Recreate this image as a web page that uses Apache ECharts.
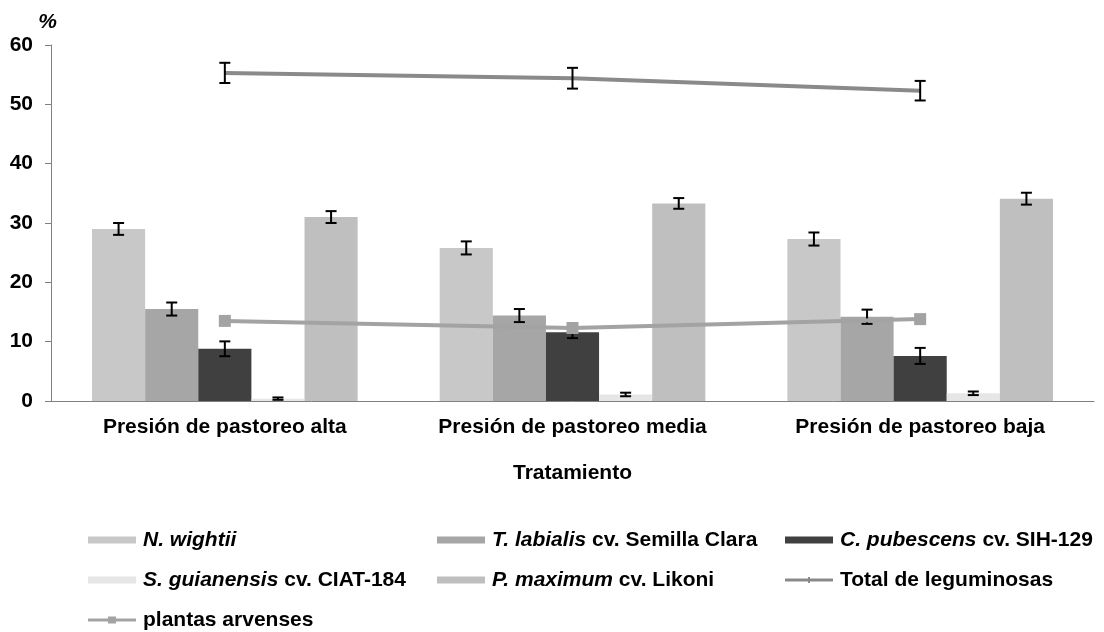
<!DOCTYPE html>
<html><head><meta charset="utf-8">
<script src="https://cdn.jsdelivr.net/npm/echarts@6/dist/echarts.min.js"></script>
<style>html,body{margin:0;padding:0;background:#fff}#c{width:1104px;height:632px}</style>
</head><body><div id="c"></div>
<script>
const categories = ['Presión de pastoreo alta', 'Presión de pastoreo media', 'Presión de pastoreo baja'];
const yTicks = [0, 10, 20, 30, 40, 50, 60];
const nWightii = [29.0, 25.8, 27.3];
const nWightiiErr = [1.0, 1.1, 1.1];
const tLabialis = [15.5, 14.4, 14.2];
const tLabialisErr = [1.1, 1.1, 1.2];
const cPubescens = [8.8, 11.6, 7.6];
const cPubescensErr = [1.25, 1.0, 1.35];
const sGuianensis = [0.4, 1.1, 1.3];
const sGuianensisErr = [0.2, 0.3, 0.3];
const pMaximum = [31.0, 33.3, 34.1];
const pMaximumErr = [1.0, 0.9, 1.0];
const totalLeg = [55.3, 54.4, 52.3];
const totalLegErr = [1.7, 1.75, 1.65];
const arvenses = [13.5, 12.3, 13.8];

const FONT = '"Liberation Sans", Arial, sans-serif';
const FS = 21;
const barNames = ['N. wightii', 'T. labialis cv. Semilla Clara', 'C. pubescens cv. SIH-129', 'S. guianensis cv. CIAT-184', 'P. maximum cv. Likoni'];
const barVals = [nWightii, tLabialis, cPubescens, sGuianensis, pMaximum];
const barErrs = [nWightiiErr, tLabialisErr, cPubescensErr, sGuianensisErr, pMaximumErr];
const barColors = ['#c8c8c8', '#a6a6a6', '#404040', '#e6e6e6', '#bfbfbf'];
const GROUP_FRAC = 0.764;

const barErrData = [];
barVals.forEach((vals, s) => vals.forEach((v, i) => barErrData.push([i, v, barErrs[s][i], s])));
const totErrData = totalLeg.map((v, i) => [i, v, totalLegErr[i], 2]);

function errRender(params, api) {
  const i = api.value(0), v = api.value(1), e = api.value(2), pos = api.value(3);
  const band = api.size([1, 0])[0];
  const bw = band * GROUP_FRAC / 5;
  const c = api.coord([i, v]);
  const x = c[0] + (pos - 2) * bw;
  const yt = api.coord([i, v + e])[1], yb = api.coord([i, v - e])[1];
  const hw = 5.5;
  const st = { stroke: '#000', lineWidth: 2 };
  return { type: 'group', children: [
    { type: 'line', shape: { x1: x, y1: yt, x2: x, y2: yb }, style: st },
    { type: 'line', shape: { x1: x - hw, y1: yt, x2: x + hw, y2: yt }, style: st },
    { type: 'line', shape: { x1: x - hw, y1: yb, x2: x + hw, y2: yb }, style: st }
  ]};
}

const series = barNames.map((n, s) => ({
  name: n, type: 'bar', data: barVals[s], barGap: '0%', barCategoryGap: ((1 - GROUP_FRAC) * 100).toFixed(1) + '%',
  itemStyle: { color: barColors[s] }, z: 2
}));
series.push({ name: 'Total de leguminosas', type: 'line', data: totalLeg, symbol: 'none', lineStyle: { color: '#8a8a8a', width: 4 }, itemStyle: { color: '#8a8a8a' }, z: 4 });
series.push({ name: 'plantas arvenses', type: 'line', data: arvenses, symbol: 'rect', symbolSize: 12, lineStyle: { color: '#a3a3a3', width: 4 }, itemStyle: { color: '#a3a3a3' }, z: 4 });
series.push({ type: 'custom', renderItem: errRender, data: barErrData, z: 3, silent: true });
series.push({ type: 'custom', renderItem: errRender, data: totErrData, z: 6, silent: true });

const italicPart = { 'N. wightii': ['N. wightii', ''], 'T. labialis cv. Semilla Clara': ['T. labialis', ' cv. Semilla Clara'],
  'C. pubescens cv. SIH-129': ['C. pubescens', ' cv. SIH-129'], 'S. guianensis cv. CIAT-184': ['S. guianensis', ' cv. CIAT-184'],
  'P. maximum cv. Likoni': ['P. maximum', ' cv. Likoni'] };
function fmt(name) {
  const p = italicPart[name];
  if (!p) return '{n|' + name + '}';
  return '{i|' + p[0] + '}' + (p[1] ? '{n|' + p[1] + '}' : '');
}
const legText = { fontFamily: FONT, fontWeight: 'bold', fontSize: FS, color: '#000', lineHeight: 22, padding: [0, 0, 0, 2],
  rich: { i: { fontFamily: FONT, fontWeight: 'bold', fontStyle: 'italic', fontSize: FS, lineHeight: 22, color: '#000' },
          n: { fontFamily: FONT, fontWeight: 'bold', fontSize: FS, lineHeight: 22, color: '#000' } } };
const lineIcons = {
  'Total de leguminosas': 'path://M0,2L48,2L48,5L0,5Z M23,0.5L25,0.5L25,6.5L23,6.5Z',
  'plantas arvenses': 'path://M0,2L48,2L48,5L0,5Z M20,0L28,0L28,7L20,7Z'
};
function leg(left, names) {
  return { left: left, top: 529, height: 110, padding: 0, orient: 'vertical', itemWidth: 48, itemHeight: 7, itemGap: 18, formatter: fmt,
    textStyle: legText, selectedMode: false,
    data: names.map(n => lineIcons[n] ? { name: n, icon: lineIcons[n] } : { name: n, icon: 'rect' }) };
}

const chart = echarts.init(document.getElementById('c'));
chart.setOption({
  animation: false,
  grid: { left: 51, right: 10, top: 45, bottom: 231 },
  legend: [
    leg(88, ['N. wightii', 'S. guianensis cv. CIAT-184', 'plantas arvenses']),
    leg(437, ['T. labialis cv. Semilla Clara', 'P. maximum cv. Likoni']),
    leg(785, ['C. pubescens cv. SIH-129', 'Total de leguminosas'])
  ],
  xAxis: {
    type: 'category', data: categories,
    name: 'Tratamiento', nameLocation: 'middle', nameGap: 62,
    nameTextStyle: { fontFamily: FONT, fontWeight: 'bold', fontSize: FS, color: '#000' },
    axisLine: { lineStyle: { color: '#808080', width: 1 } },
    axisTick: { length: 6, lineStyle: { color: '#808080' } },
    axisLabel: { interval: 0, hideOverlap: false, fontFamily: FONT, fontWeight: 'bold', fontSize: FS, color: '#000', margin: 16 }
  },
  yAxis: {
    type: 'value', min: 0, max: 60, interval: 10,
    name: '%', nameGap: 12, nameLocation: 'end',
    nameTextStyle: { fontFamily: FONT, fontWeight: 'bold', fontStyle: 'italic', fontSize: FS, color: '#000', padding: [0, 7, 0, 0] },
    axisLine: { show: true, lineStyle: { color: '#808080', width: 1 } },
    axisTick: { show: true, length: 6, lineStyle: { color: '#808080' } },
    splitLine: { show: false },
    axisLabel: { fontFamily: FONT, fontWeight: 'bold', fontSize: FS, color: '#000', margin: 18,
      formatter: v => yTicks.includes(v) ? String(v) : '' }
  },
  series: series
});
</script></body></html>
